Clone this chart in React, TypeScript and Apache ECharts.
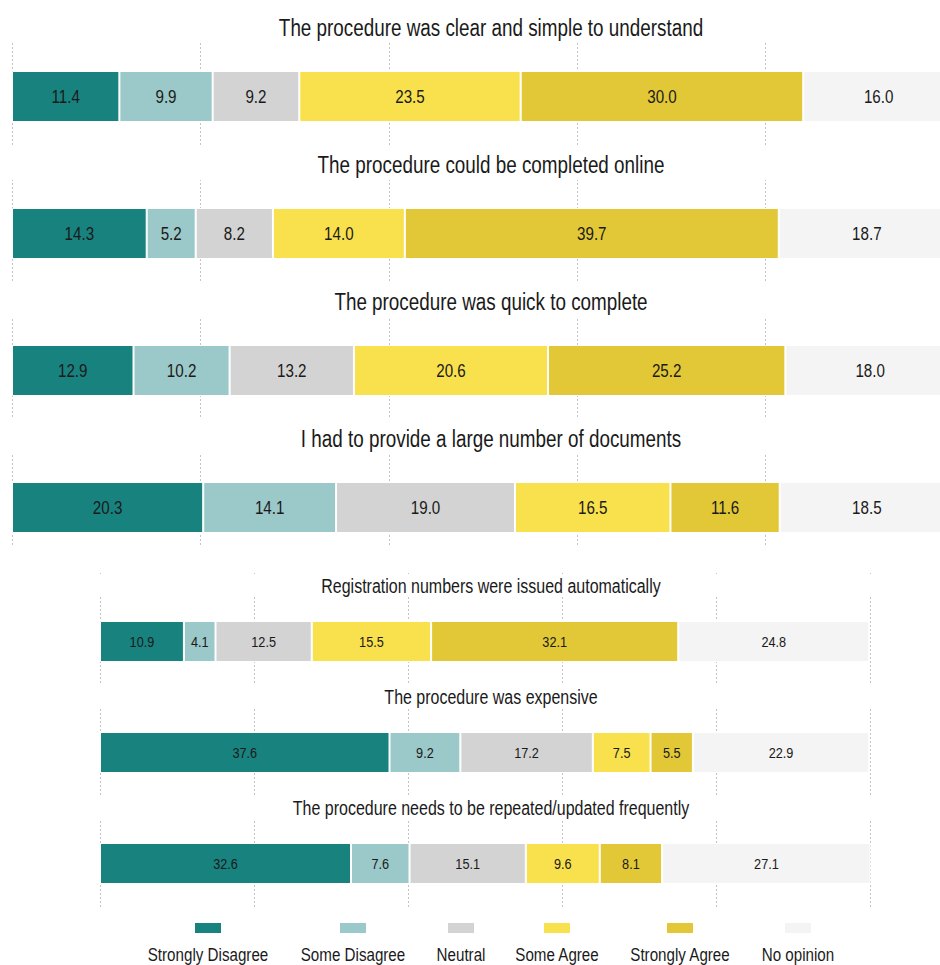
import React, { useEffect, useRef } from "react";
import * as echarts from "echarts";

// ---------- data ----------
const categories = [
  "Strongly Disagree",
  "Some Disagree",
  "Neutral",
  "Some Agree",
  "Strongly Agree",
  "No opinion",
];

const questions = [
  "The procedure was clear and simple to understand",
  "The procedure could be completed online",
  "The procedure was quick to complete",
  "I had to provide a large number of documents",
  "Registration numbers were issued automatically",
  "The procedure was expensive",
  "The procedure needs to be repeated/updated frequently",
];

const stronglyDisagree = [11.4, 14.3, 12.9, 20.3, 10.9, 37.6, 32.6];
const someDisagree = [9.9, 5.2, 10.2, 14.1, 4.1, 9.2, 7.6];
const neutral = [9.2, 8.2, 13.2, 19.0, 12.5, 17.2, 15.1];
const someAgree = [23.5, 14.0, 20.6, 16.5, 15.5, 7.5, 9.6];
const stronglyAgree = [30.0, 39.7, 25.2, 11.6, 32.1, 5.5, 8.1];
const noOpinion = [16.0, 18.7, 18.0, 18.5, 24.8, 22.9, 27.1];

const seriesValues = [
  stronglyDisagree,
  someDisagree,
  neutral,
  someAgree,
  stronglyAgree,
  noOpinion,
];

const axisTicks = [0, 20, 40, 60, 80, 100];

// ---------- styles / layout ----------
const colors = ["#18827F", "#9BC8C8", "#D3D3D3", "#F9E04D", "#E2C836", "#F4F4F4"];
const FONT = "'Liberation Sans', Arial, sans-serif";
const NARROW = 0.82; // horizontal compression to mimic a narrow sans
const TEXT = "#1a1a1a";
const CHART_W = 960; // drawn wider than the 940 viewport; right edge is clipped

// panel geometry (top block = 4 large panels, bottom block = 3 smaller ones)
const panelLayout = questions.map((_, i) => {
  if (i < 4) {
    const barTop = 71 + i * 137;
    return {
      left: 12,
      right: CHART_W - 954,
      barTop,
      barH: 51,
      maskTop: barTop - 63,
      maskH: 35,
      titleY: barTop - 43,
      titleSize: 23,
      labelSize: 18.5,
    };
  }
  const j = i - 4;
  const barTop = 621 + j * 111;
  return {
    left: 100,
    right: CHART_W - 870,
    barTop,
    barH: 41,
    maskTop: barTop - 47,
    maskH: 23,
    titleY: barTop - 35,
    titleSize: 19.5,
    labelSize: 15.5,
  };
});

const blocks = [
  { left: 12, right: CHART_W - 954, top: 43, height: 504 },
  { left: 100, right: CHART_W - 870, top: 573, height: 335 },
];

const legendCenters = [208, 353, 461, 557, 680, 798];

export default function App() {
  const ref = useRef<HTMLDivElement>(null);

  useEffect(() => {
    if (!ref.current) return;
    const chart = echarts.init(ref.current, undefined, { renderer: "svg" });

    const grids: any[] = [];
    const xAxes: any[] = [];
    const yAxes: any[] = [];
    const series: any[] = [];
    const graphics: any[] = [];

    // gridline blocks
    blocks.forEach((b, bi) => {
      grids.push({ left: b.left, right: b.right, top: b.top, height: b.height });
      xAxes.push({
        gridIndex: bi,
        type: "value",
        min: axisTicks[0],
        max: axisTicks[axisTicks.length - 1],
        interval: axisTicks[1] - axisTicks[0],
        axisLabel: { show: false },
        axisLine: { show: false },
        axisTick: { show: false },
        splitLine: {
          show: true,
          lineStyle: { color: "#c4c4c4", type: [2, 2], width: 1 },
        },
      });
      yAxes.push({
        gridIndex: bi,
        type: "value",
        min: 0,
        max: 1,
        show: false,
        splitLine: { show: false },
      });
    });

    // bar panels
    questions.forEach((q, qi) => {
      const L = panelLayout[qi];
      const gi = grids.length;
      grids.push({ left: L.left, right: L.right, top: L.barTop, height: L.barH });
      xAxes.push({
        gridIndex: gi,
        type: "value",
        min: 0,
        max: 100,
        show: false,
        splitLine: { show: false },
      });
      yAxes.push({
        gridIndex: gi,
        type: "category",
        data: [q],
        show: false,
      });
      categories.forEach((c, ci) => {
        series.push({
          type: "bar",
          name: c,
          xAxisIndex: gi,
          yAxisIndex: gi,
          stack: "s" + qi,
          barWidth: "100%",
          data: [seriesValues[ci][qi]],
          itemStyle: { color: colors[ci], borderColor: "#ffffff", borderWidth: 1 },
          emphasis: { disabled: true },
          silent: true,
        });
      });

      // value labels (narrow text centred on each stacked segment)
      let acc = 0;
      const labelData = categories.map((_, ci) => {
        const v = seriesValues[ci][qi];
        const row = [acc, v];
        acc += v;
        return row;
      });
      const size = L.labelSize;
      series.push({
        type: "custom",
        xAxisIndex: gi,
        yAxisIndex: gi,
        z: 5,
        silent: true,
        data: labelData,
        renderItem: (_params: any, api: any) => {
          const s = api.value(0);
          const v = api.value(1);
          const p = api.coord([s + v / 2, 0]);
          return {
            type: "text",
            x: p[0],
            y: p[1],
            scaleX: NARROW,
            style: {
              text: Number(v).toFixed(1),
              fill: TEXT,
              font: `${size}px ${FONT}`,
              align: "center",
              verticalAlign: "middle",
            },
          };
        },
      });

      // mask strip behind title (hides gridlines)
      graphics.push({
        type: "rect",
        z: 50,
        silent: true,
        shape: { x: 0, y: L.maskTop, width: CHART_W, height: L.maskH },
        style: { fill: "#ffffff" },
      });

      // panel title
      graphics.push({
        type: "text",
        z: 60,
        silent: true,
        x: 491,
        y: L.titleY,
        scaleX: NARROW,
        style: {
          text: q,
          fill: TEXT,
          font: `${L.titleSize}px ${FONT}`,
          align: "center",
          verticalAlign: "middle",
        },
      });
    });

    // legend (icons above text)
    categories.forEach((c, ci) => {
      const cx = legendCenters[ci];
      graphics.push({
        type: "rect",
        z: 60,
        silent: true,
        shape: { x: cx - 13, y: 923, width: 26, height: 10 },
        style: { fill: colors[ci] },
      });
      graphics.push({
        type: "text",
        z: 60,
        silent: true,
        x: cx,
        y: 955,
        scaleX: NARROW,
        style: {
          text: c,
          fill: TEXT,
          font: `18.5px ${FONT}`,
          align: "center",
          verticalAlign: "middle",
        },
      });
    });

    chart.setOption({
      animation: false,
      backgroundColor: "#ffffff",
      grid: grids,
      xAxis: xAxes,
      yAxis: yAxes,
      series,
      graphic: graphics,
    });

    return () => chart.dispose();
  }, []);

  return (
    <div
      style={{
        position: "absolute",
        left: 0,
        top: 0,
        width: 940,
        height: 965,
        overflow: "hidden",
      }}
    >
      <div ref={ref} style={{ width: CHART_W, height: 965 }} />
    </div>
  );
}
